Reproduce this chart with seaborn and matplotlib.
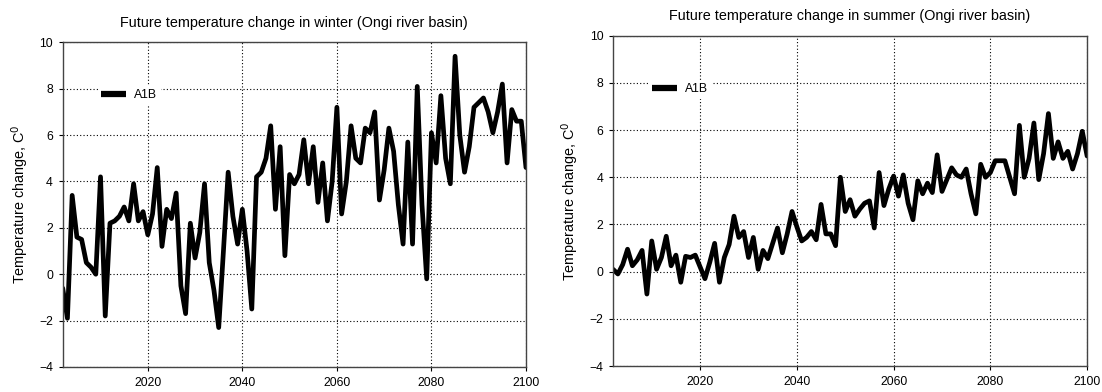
import numpy as np
import pandas as pd
import matplotlib
matplotlib.use("Agg")
import matplotlib.pyplot as plt
import seaborn as sns

# yearly temperature change, 2002-2100 (A1B scenario)
winter = [
    -0.6, -1.9, 3.4, 1.6, 1.5, 0.5, 0.3, 0.0, 4.2, -1.8,
    2.2, 2.3, 2.5, 2.9, 2.3, 3.9, 2.3, 2.7, 1.7, 2.6,
    4.6, 1.2, 2.8, 2.4, 3.5, -0.5, -1.7, 2.2, 0.7, 1.8,
    3.9, 0.5, -0.7, -2.3, 1.0, 4.4, 2.5, 1.3, 2.8, 1.0,
    -1.5, 4.2, 4.4, 5.0, 6.4, 2.8, 5.5, 0.8, 4.3, 3.9,
    4.3, 5.8, 3.9, 5.5, 3.1, 4.8, 2.3, 4.0, 7.2, 2.6,
    4.0, 6.4, 5.0, 4.8, 6.3, 6.1, 7.0, 3.2, 4.5, 6.3,
    5.3, 3.0, 1.3, 5.7, 1.3, 8.1, 3.0, -0.2, 6.1, 4.8,
    7.7, 5.0, 3.9, 9.4, 6.0, 4.4, 5.5, 7.2, 7.4, 7.6,
    7.0, 6.1, 7.0, 8.2, 4.8, 7.1, 6.6, 6.6, 4.6,
]
summer = [
    0.1, -0.1, 0.3, 0.95, 0.25, 0.5, 0.9, -0.95, 1.3, 0.1,
    0.6, 1.5, 0.25, 0.7, -0.45, 0.65, 0.6, 0.7, 0.2, -0.3,
    0.4, 1.2, -0.45, 0.6, 1.15, 2.35, 1.45, 1.7, 0.6, 1.45,
    0.1, 0.9, 0.55, 1.2, 1.85, 0.8, 1.6, 2.55, 1.9, 1.3,
    1.45, 1.7, 1.35, 2.85, 1.6, 1.6, 1.1, 4.0, 2.55, 3.05,
    2.35, 2.65, 2.9, 3.0, 1.85, 4.2, 2.8, 3.5, 4.05, 3.2,
    4.1, 2.9, 2.2, 3.85, 3.3, 3.75, 3.35, 4.95, 3.4, 3.9,
    4.4, 4.1, 4.0, 4.35, 3.3, 2.45, 4.55, 4.0, 4.2, 4.7,
    4.7, 4.7, 4.0, 3.3, 6.2, 4.0, 4.8, 6.3, 3.9, 5.0,
    6.7, 4.8, 5.5, 4.8, 5.1, 4.35, 5.0, 5.95, 4.9,
]
years = list(range(2002, 2002 + len(winter)))
x_ticks = [2020, 2040, 2060, 2080, 2100]
y_ticks = [-4, -2, 0, 2, 4, 6, 8, 10]

sns.set_theme(style="ticks")
plt.rcParams["font.family"] = ["Liberation Sans", "DejaVu Sans"]
plt.rcParams["text.color"] = "black"
plt.rcParams["axes.labelcolor"] = "black"
plt.rcParams["xtick.color"] = "black"
plt.rcParams["ytick.color"] = "black"

fig = plt.figure(figsize=(11.02, 3.92), dpi=100)
ax1 = fig.add_axes([0.0569, 0.0638, 0.4204, 0.8282])
ax2 = fig.add_axes([0.5563, 0.0663, 0.4302, 0.8426])

panels = [
    (ax1, winter, "Future temperature change in winter (Ongi river basin)"),
    (ax2, summer, "Future temperature change in summer (Ongi river basin)"),
]

for ax, vals, title in panels:
    df = pd.DataFrame({"year": years, "value": vals})
    sns.lineplot(data=df, x="year", y="value", ax=ax, color="black",
                 linewidth=3.4, label="A1B", solid_joinstyle="round",
                 solid_capstyle="round")
    ax.set_xlim(2002, 2100)
    ax.set_ylim(-4, 10)
    ax.set_xticks(x_ticks)
    ax.set_yticks(y_ticks)
    ax.grid(True, linestyle=(0, (1, 2)), color="black", linewidth=0.8)
    ax.set_axisbelow(True)
    for s in ax.spines.values():
        s.set_color("#444444")
        s.set_linewidth(1.0)
    ax.tick_params(axis="both", labelsize=8.8, length=3, width=0.8,
                   pad=4)
    ax.set_title(title, fontsize=10.4, pad=11)
    ax.set_xlabel("")
    ax.set_ylabel("Temperature change, C$^0$", fontsize=10.4, labelpad=6)
    leg = ax.legend(loc="upper left", bbox_to_anchor=(0.062, 0.885),
                    frameon=True, fontsize=8.8, handlelength=2.0,
                    borderpad=0.3, handletextpad=0.7)
    leg.get_frame().set_facecolor("white")
    leg.get_frame().set_edgecolor("none")
    leg.get_frame().set_alpha(1)
    for h in leg.get_lines():
        h.set_linewidth(4.5)
        h.set_solid_capstyle("butt")

fig.savefig("out.png", dpi=100, facecolor="white")
